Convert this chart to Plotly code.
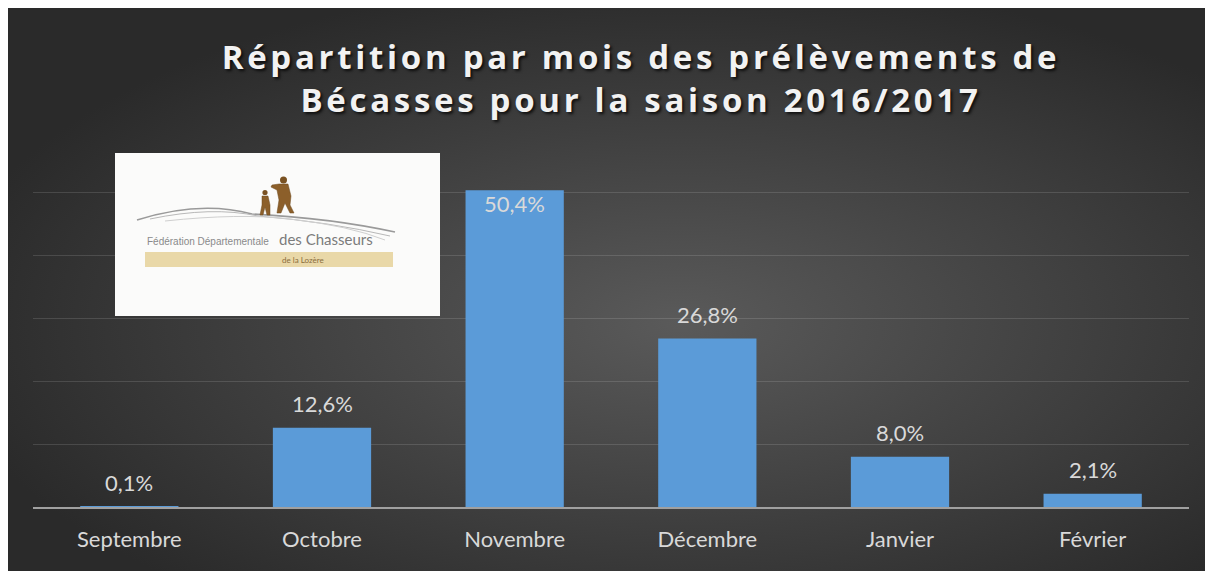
import base64
import plotly.graph_objects as go

categories = ["Septembre", "Octobre", "Novembre", "Décembre", "Janvier", "Février"]
values = [0.1, 12.6, 50.4, 26.8, 8.0, 2.1]
label_inside = [False, False, True, False, False, False]

OFF = 8  # page body margin
W, H = 1213 - OFF, 576 - OFF
L, R, T, B = 33 - OFF, 1189 - OFF, 130 - OFF, 507 - OFF  # plot area in figure pixels


def px(x):
    """page pixel x -> paper x"""
    return (x - OFF - L) / (R - L)


def py(y):
    """page pixel y -> paper y"""
    return (B - (y - OFF)) / (B - T)


fig = go.Figure()
fig.add_trace(go.Bar(
    x=categories, y=values,
    marker=dict(color="#5b9bd8", line=dict(width=0)),
    hoverinfo="x+y",
))

# data labels
for c, v, inside in zip(categories, values, label_inside):
    txt = f"{v:.1f}".replace(".", ",") + "%"
    fig.add_annotation(
        x=c, y=v, text=txt, showarrow=False,
        yanchor="middle", yshift=(-13 if inside else 24),
        font=dict(family="Lato, Open Sans, sans-serif", size=22, color="#d9d9d9"),
    )

# radial gradient background
svg = ("<svg xmlns='http://www.w3.org/2000/svg' width='1203' height='566' preserveAspectRatio='none'>"
       "<defs><radialGradient id='g' cx='0.56' cy='0.56' r='0.62'>"
       "<stop offset='0' stop-color='#5a5a5a'/><stop offset='1' stop-color='#2a2a2a'/>"
       "</radialGradient></defs><rect width='1203' height='566' fill='url(#g)'/></svg>")
src = "data:image/svg+xml;base64," + base64.b64encode(svg.encode()).decode()
fig.add_layout_image(dict(
    source=src, xref="paper", yref="paper",
    x=px(OFF), y=py(OFF), sizex=px(1208) - px(OFF), sizey=py(OFF) - py(571),
    xanchor="left", yanchor="top", sizing="stretch", layer="below",
))

# logo (white card)
shapes = []
shapes.append(dict(type="rect", xref="paper", yref="paper",
                   x0=px(115), x1=px(440), y0=py(153), y1=py(316),
                   fillcolor="#fbfbfa", line=dict(width=0), layer="above"))
shapes.append(dict(type="rect", xref="paper", yref="paper",
                   x0=px(145), x1=px(393), y0=py(252), y1=py(267),
                   fillcolor="#e9d8a8", line=dict(width=0), layer="above"))


def path(points, close=True):
    s = "M " + " L ".join(f"{px(a):.5f},{py(b):.5f}" for a, b in points)
    return s + (" Z" if close else "")


def qpath(p0, c1, p1, c2, p2):
    f = lambda p: f"{px(p[0]):.5f},{py(p[1]):.5f}"
    return f"M {f(p0)} Q {f(c1)} {f(p1)} Q {f(c2)} {f(p2)}"


for (p0, c1, p1, c2, p2, col, w) in [
    ((137, 220), (200, 200), (252, 214), (330, 218), (395, 232), "#9a9a9a", 1.6),
    ((150, 219), (212, 206), (258, 216), (330, 222), (390, 236), "#b8b8b8", 1.0),
    ((165, 221), (240, 213), (290, 219), (350, 226), (385, 240), "#cfcfcf", 1.0),
]:
    shapes.append(dict(type="path", xref="paper", yref="paper", path=qpath(p0, c1, p1, c2, p2),
                       line=dict(color=col, width=w), layer="above"))

# hunters silhouettes
big = [(279, 184), (288, 184), (291, 196), (290, 205), (294, 213), (290, 213), (285, 203),
       (281, 213), (277, 213), (279, 200), (277, 190), (271, 187), (272, 185)]
small = [(262, 196), (268, 196), (270, 205), (270, 215), (267, 215), (265, 207), (263, 215),
         (260, 215), (262, 205)]
for poly in (big, small):
    shapes.append(dict(type="path", xref="paper", yref="paper", path=path(poly),
                       fillcolor="#8c5f2a", line=dict(color="#6e4a1e", width=0.5), layer="above"))
for (cx, cy, r) in [(283.5, 180, 3.5), (265, 192.5, 2.6)]:
    shapes.append(dict(type="circle", xref="paper", yref="paper",
                       x0=px(cx - r), x1=px(cx + r), y0=py(cy + r), y1=py(cy - r),
                       fillcolor="#7a5222", line=dict(width=0), layer="above"))

fig.add_annotation(xref="paper", yref="paper", x=px(145), y=py(241), xanchor="left", yanchor="middle",
                   text="Fédération Départementale", showarrow=False,
                   font=dict(family="Liberation Sans Narrow, Liberation Sans, sans-serif", size=10, color="#8a8a8a"))
fig.add_annotation(xref="paper", yref="paper", x=px(277), y=py(239), xanchor="left", yanchor="middle",
                   text="des Chasseurs", showarrow=False,
                   font=dict(family="Lato, sans-serif", size=15, color="#7c7c7c"))
fig.add_annotation(xref="paper", yref="paper", x=px(303), y=py(259.5), xanchor="center", yanchor="middle",
                   text="de la Lozère", showarrow=False,
                   font=dict(family="Lato, sans-serif", size=8, color="#8a6d3b"))

title_lines = ["Répartition par mois des prélèvements de", "Bécasses pour la saison 2016/2017"]
title_text = "<br>".join(f"<span style='letter-spacing:3.7px'>{t}</span>" for t in title_lines)

fig.update_layout(
    width=W, height=H,
    margin=dict(l=L, r=W - R, t=T, b=H - B, pad=0),
    paper_bgcolor="#ffffff",
    plot_bgcolor="rgba(0,0,0,0)",
    separators=", ",
    showlegend=False,
    bargap=0.49,
    shapes=shapes,
    title=dict(
        text=title_text,
        x=(641 - OFF) / W, xref="container", xanchor="center",
        y=1 - 61 / H, yref="container", yanchor="middle",
        font=dict(family="Open Sans, sans-serif", size=33, color="#f2f2f2", weight="bold",
                  shadow="2px 2px 3px rgba(0,0,0,0.75)"),
    ),
    xaxis=dict(
        showline=True, linecolor="#a0a0a0", linewidth=2,
        showgrid=False, ticks="", ticklabelstandoff=12,
        tickfont=dict(family="Lato, Open Sans, sans-serif", size=22, color="#d9d9d9"),
        fixedrange=True,
    ),
    yaxis=dict(
        range=[0, 60], dtick=10, showticklabels=False, zeroline=False,
        showgrid=True, gridcolor="rgba(255,255,255,0.13)", gridwidth=1,
        fixedrange=True,
    ),
)

fig.write_html("out.html")
